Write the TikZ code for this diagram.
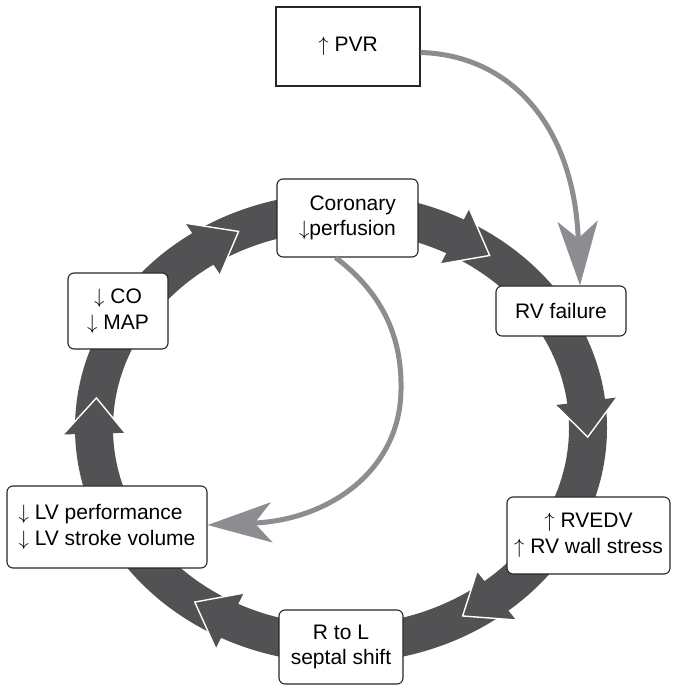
\documentclass[tikz,border=0pt]{standalone}
\usepackage{fontspec}
\setmainfont{Liberation Sans}
\usetikzlibrary{arrows.meta,calc}
\definecolor{ringc}{RGB}{82,82,85}
\definecolor{linkc}{RGB}{140,140,145}
\newcommand{\upar}{$\uparrow$}
\newcommand{\dnar}{$\downarrow$}
\begin{document}
\begin{tikzpicture}[x=1pt,y=1pt,
  box/.style={draw=black!85, line width=1.1pt, fill=white, rounded corners=6pt, inner sep=0pt, font=\fontsize{21}{25.5}\selectfont},
  link/.style={draw=linkc, line width=5pt, -{Stealth[length=64pt,width=40pt,inset=17pt]}},
  edgeline/.style={draw=white, line width=1.4pt, line join=miter}
]
\useasboundingbox (0,0) rectangle (672,685);
\coordinate (c) at (341,257);
\fill[ringc, even odd rule] (c) ellipse [x radius=266pt, y radius=235pt] (c) ellipse [x radius=228pt, y radius=197pt];
\foreach \t in {53,-2.4,-60.5,-126.3,172,114.5} {
  \pgfmathsetmacro\s{\t+9.5}
  \coordinate (tip) at ($(c)+(\t:247 and 216)$);
  \coordinate (wo) at ($(c)+(\s:278 and 247)$);
  \coordinate (wi) at ($(c)+(\s:216 and 185)$);
  \fill[ringc] (wo) -- (tip) -- (wi) -- cycle;
  \draw[edgeline] (wo) -- (tip) -- (wi);
}
\node[box, sharp corners, minimum width=144pt, minimum height=79pt] (pvr) at (348,638.5) {\upar\ PVR};
\node[box, minimum width=141pt, minimum height=78pt, align=right] (cor) at (347.5,467) {Coronary\\\dnar perfusion};
\node[box, minimum width=130pt, minimum height=50pt] (rvf) at (561,374) {RV failure};
\node[box, minimum width=163pt, minimum height=77pt, align=center] (rve) at (588.5,149.5) {\upar\ RVEDV\\\upar\ RV wall stress};
\node[box, minimum width=124pt, minimum height=74pt, align=center] (sep) at (341,38) {R to L\\septal shift};
\node[box, minimum width=200pt, minimum height=82pt, align=left] (lv) at (107,158) {\dnar\ LV performance\\\dnar\ LV stroke volume};
\node[box, minimum width=100pt, minimum height=76pt, align=center] (co) at (118,374) {\dnar\ CO\\\dnar\ MAP};
\draw[link] ([yshift=-6pt]pvr.east) .. controls (510,630) and (574,560) .. ([xshift=19pt]rvf.north);
\draw[link] ([xshift=-12pt]cor.south) .. controls (385,390) and (402,345) .. (401,295) .. controls (400,215) and (330,165) .. ([yshift=2pt]lv.east);
\end{tikzpicture}
\end{document}
